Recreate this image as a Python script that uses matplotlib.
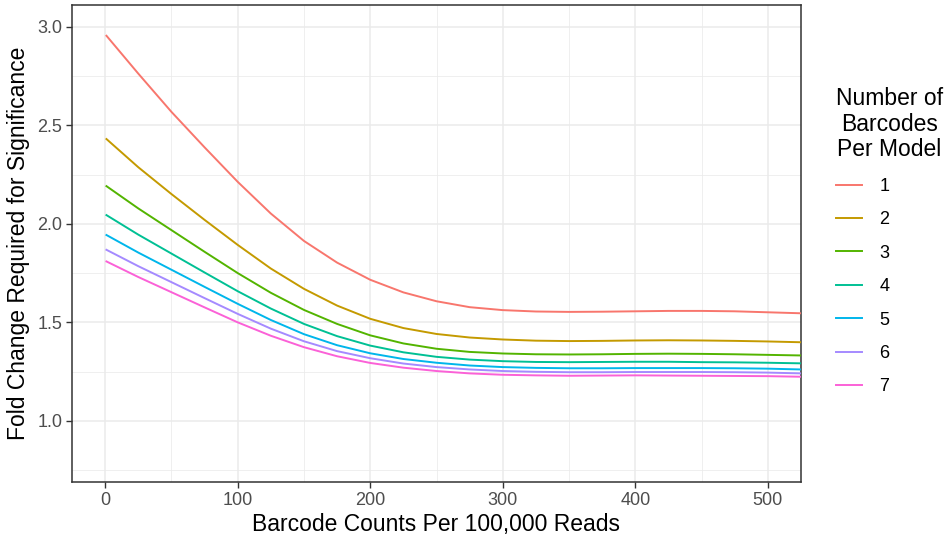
import matplotlib
matplotlib.use("Agg")
import matplotlib.pyplot as plt

plt.rcParams['font.family'] = ['Liberation Sans', 'DejaVu Sans']

x_vals = [1, 25, 50, 75, 100, 125, 150, 175, 200, 225, 250, 275, 300,
          325, 350, 375, 400, 425, 450, 475, 500, 525]

series_labels = ["1", "2", "3", "4", "5", "6", "7"]

fc_1 = [2.954, 2.762, 2.568, 2.388, 2.213, 2.052, 1.913, 1.803, 1.716, 1.652, 1.607, 1.577, 1.562,
        1.555, 1.553, 1.554, 1.556, 1.558, 1.558, 1.556, 1.551, 1.546]
fc_2 = [2.430, 2.287, 2.151, 2.020, 1.893, 1.773, 1.670, 1.585, 1.518, 1.471, 1.441, 1.423, 1.413,
        1.407, 1.405, 1.406, 1.408, 1.409, 1.408, 1.406, 1.403, 1.399]
fc_3 = [2.191, 2.078, 1.968, 1.858, 1.750, 1.650, 1.563, 1.492, 1.434, 1.393, 1.366, 1.350, 1.342,
        1.338, 1.337, 1.338, 1.340, 1.341, 1.340, 1.338, 1.335, 1.332]
fc_4 = [2.044, 1.945, 1.849, 1.753, 1.658, 1.570, 1.492, 1.430, 1.382, 1.348, 1.325, 1.311, 1.303,
        1.299, 1.298, 1.299, 1.300, 1.300, 1.298, 1.297, 1.295, 1.292]
fc_5 = [1.943, 1.854, 1.767, 1.680, 1.594, 1.512, 1.440, 1.384, 1.343, 1.314, 1.295, 1.281, 1.273,
        1.269, 1.267, 1.267, 1.268, 1.268, 1.268, 1.267, 1.265, 1.261]
fc_6 = [1.868, 1.785, 1.704, 1.623, 1.543, 1.468, 1.404, 1.354, 1.318, 1.291, 1.273, 1.261, 1.253,
        1.249, 1.247, 1.247, 1.248, 1.248, 1.248, 1.247, 1.245, 1.241]
fc_7 = [1.809, 1.730, 1.653, 1.576, 1.500, 1.432, 1.374, 1.328, 1.294, 1.270, 1.253, 1.241, 1.234,
        1.231, 1.229, 1.230, 1.231, 1.230, 1.229, 1.228, 1.227, 1.224]

all_series = [fc_1, fc_2, fc_3, fc_4, fc_5, fc_6, fc_7]
colors = ["#F8766D", "#C49A00", "#53B400", "#00C094", "#00B6EB", "#A58AFF", "#FB61D7"]

x_ticks = [0, 100, 200, 300, 400, 500]
y_ticks = [1.0, 1.5, 2.0, 2.5, 3.0]
y_tick_labels = ["1.0", "1.5", "2.0", "2.5", "3.0"]

fig = plt.figure(figsize=(9.48, 5.42), dpi=100)
ax = fig.add_axes([72/948, 60/542, 729/948, 477/542])

for vals, lab, col in zip(all_series, series_labels, colors):
    ax.plot(x_vals, vals, color=col, lw=1.4, label=lab, solid_joinstyle='round', zorder=3)

ax.set_xlim(-25, 525)
ax.set_ylim(0.69, 3.11)

ax.set_xticks(x_ticks)
ax.set_xticks([50, 150, 250, 350, 450], minor=True)
ax.set_yticks(y_ticks)
ax.set_yticklabels(y_tick_labels)
ax.set_yticks([0.75, 1.25, 1.75, 2.25, 2.75], minor=True)

ax.grid(which='major', color='#EBEBEB', lw=1.1, zorder=0)
ax.grid(which='minor', color='#EBEBEB', lw=0.55, zorder=0)
ax.set_axisbelow(True)

for sp in ax.spines.values():
    sp.set_color('#333333')
    sp.set_linewidth(1.1)

ax.tick_params(which='major', length=4, width=1.0, color='#333333', labelcolor='#4D4D4D', labelsize=13, pad=3)
ax.tick_params(which='minor', length=0)

ax.set_xlabel("Barcode Counts Per 100,000 Reads", fontsize=16.5, color='black', labelpad=3)
ax.set_ylabel("Fold Change Required for Significance", fontsize=16.5, color='black', labelpad=5)

leg = fig.legend(loc='upper left', bbox_to_anchor=(836/948, 1 - 87/542), frameon=False,
                 title="Number of\nBarcodes\nPer Model", title_fontsize=16.5, fontsize=13,
                 handlelength=1.45, handletextpad=0.95, labelspacing=0.91, alignment='left',
                 borderaxespad=0, borderpad=0)
leg.get_title().set_multialignment('center')
leg.get_title().set_linespacing(1.15)

fig.savefig("out.png", dpi=100)
